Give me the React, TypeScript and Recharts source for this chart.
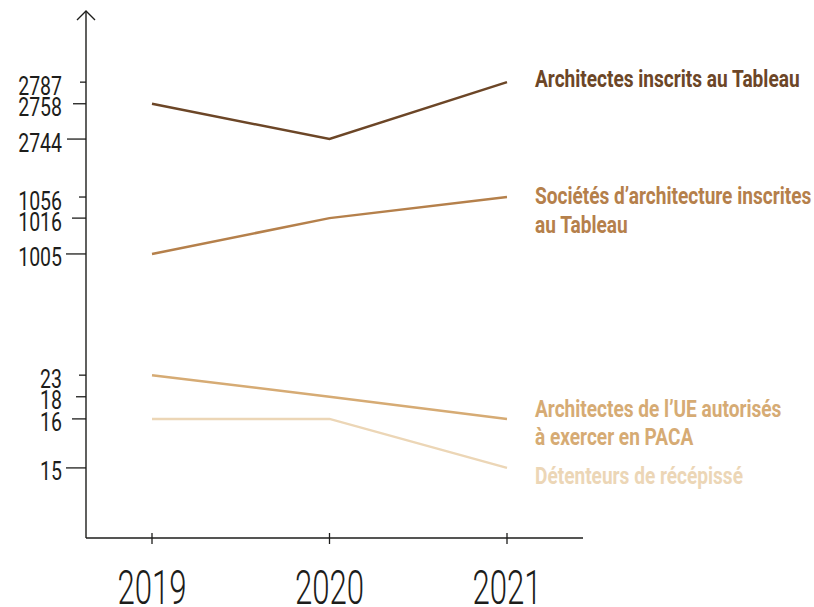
import React from "react";
import { LineChart, Line, XAxis, YAxis, LabelList } from "recharts";

// values
const years = ["2019", "2020", "2021"];
const architectesInscrits = [2758, 2744, 2787];
const societesInscrites = [1005, 1016, 1056];
const architectesUE = [23, 18, 16];
const detenteursRecepisse = [16, 16, 15];
const yTicks = [15, 16, 18, 23, 1005, 1016, 1056, 2744, 2758, 2787];

const data = years.map((year, i) => ({
  year,
  inscrits: architectesInscrits[i],
  societes: societesInscrites[i],
  ue: architectesUE[i],
  recepisse: detenteursRecepisse[i],
}));

const series = [
  { key: "inscrits", color: "#6c4627", lines: ["Architectes inscrits au Tableau"], dy: 5 },
  { key: "societes", color: "#b5804b", lines: ["Sociétés d’architecture inscrites", "au Tableau"], dy: 7 },
  { key: "ue", color: "#d6ab74", lines: ["Architectes de l’UE autorisés", "à exercer en PACA"], dy: -2 },
  { key: "recepisse", color: "#ecd6b6", lines: ["Détenteurs de récépissé"], dy: 16 },
];

// the axis is not linear: each tick sits on its own level (0 = bottom, 1 = top)
const tickLevels = [0.133, 0.226, 0.268, 0.309, 0.539, 0.607, 0.647, 0.757, 0.824, 0.865];
const tickLen: Record<number, number> = {
  15: 20, 16: 14, 18: 10, 23: 7, 1005: 20, 1016: 14, 1056: 7, 2744: 19, 2758: 13, 2787: 6,
};

function levelScale(anchors: [number, number][]) {
  let dom: number[] = [0, 1];
  let rng: number[] = [0, 1];
  const level = (v: number) => {
    let i = 0;
    while (i < anchors.length - 2 && v > anchors[i + 1][0]) i++;
    const [v0, l0] = anchors[i];
    const [v1, l1] = anchors[i + 1];
    return l0 + ((v - v0) / (v1 - v0)) * (l1 - l0);
  };
  const s: any = (v: number) => rng[0] + (rng[1] - rng[0]) * level(Number(v));
  s.domain = (d?: number[]) => (d === undefined ? dom : ((dom = [...d]), s));
  s.range = (r?: number[]) => (r === undefined ? rng : ((rng = [...r]), s));
  s.copy = () => levelScale(anchors).domain(dom).range(rng);
  s.ticks = () => anchors.slice(1, -1).map((a) => a[0]);
  s.tickFormat = () => (v: number) => String(v);
  s.invert = (y: number) => y;
  return s;
}

const yScale = levelScale([
  [0, 0],
  ...yTicks.map((t, i) => [t, tickLevels[i]] as [number, number]),
  [3000, 1],
]);

const ink = "#1d1d1b";

function YTick(props: any) {
  const { x, y, payload } = props;
  const len = tickLen[payload.value] ?? 8;
  return (
    <g>
      <line x1={x - len} x2={x} y1={y} y2={y} stroke={ink} strokeWidth={1.3} />
      <text
        transform={`translate(${x - 24},${y + 12.5}) scale(0.78,1)`}
        textAnchor="end"
        fontFamily="Roboto, sans-serif"
        fontSize={25}
        fill={ink}
      >
        {payload.value}
      </text>
    </g>
  );
}

function XTick(props: any) {
  const { x, y, payload } = props;
  return (
    <g>
      <line x1={x} x2={x} y1={y - 5} y2={y + 6} stroke={ink} strokeWidth={1.3} />
      <text
        transform={`translate(${x},${y + 66}) scale(0.65,1)`}
        textAnchor="middle"
        fontFamily="Roboto, sans-serif"
        fontWeight={300}
        fontSize={48}
        fill={ink}
      >
        {payload.value}
      </text>
    </g>
  );
}

function Arrow(props: any) {
  const vb = props.viewBox;
  if (!vb) return null;
  const x = vb.x + vb.width;
  const y = vb.y;
  return (
    <path
      d={`M${x - 9},${y + 9} L${x},${y} L${x + 9},${y + 9}`}
      fill="none"
      stroke={ink}
      strokeWidth={1.4}
    />
  );
}

function SeriesLabel({ x, y, s }: any) {
  return (
    <text
      transform={`translate(${x + 28},${y + s.dy}) scale(0.83,1)`}
      fontFamily="Roboto, sans-serif"
      fontWeight={700}
      fontSize={23}
      fill={s.color}
    >
      {s.lines.map((l: string, i: number) => (
        <tspan key={i} x={0} dy={i === 0 ? 0 : 28.5}>
          {l}
        </tspan>
      ))}
    </text>
  );
}

export default function App() {
  return (
    <div style={{ position: "absolute", left: 0, top: 0, background: "#fff" }}>
      <LineChart
        width={814}
        height={607}
        data={data}
        margin={{ top: 11, right: 231, bottom: 0, left: 0 }}
      >
        <XAxis
          dataKey="year"
          height={69}
          padding={{ left: 66, right: 76 }}
          interval={0}
          tickSize={0}
          tickMargin={0}
          tickLine={false}
          axisLine={{ stroke: ink, strokeWidth: 1.4 }}
          tick={<XTick />}
        />
        <YAxis
          width={86}
          scale={yScale}
          type="number"
          domain={[0, 3000]}
          ticks={yTicks}
          interval={0}
          tickSize={0}
          tickMargin={0}
          tickLine={false}
          axisLine={{ stroke: ink, strokeWidth: 1.4 }}
          tick={<YTick />}
          label={{ content: <Arrow /> }}
        />
        {series.map((s) => (
          <Line
            key={s.key}
            dataKey={s.key}
            stroke={s.color}
            strokeWidth={2.5}
            dot={false}
            activeDot={false}
            isAnimationActive={false}
          >
            <LabelList
              dataKey={s.key}
              content={(p: any) =>
                p.index === years.length - 1 ? <SeriesLabel x={p.x} y={p.y} s={s} /> : null
              }
            />
          </Line>
        ))}
      </LineChart>
    </div>
  );
}
